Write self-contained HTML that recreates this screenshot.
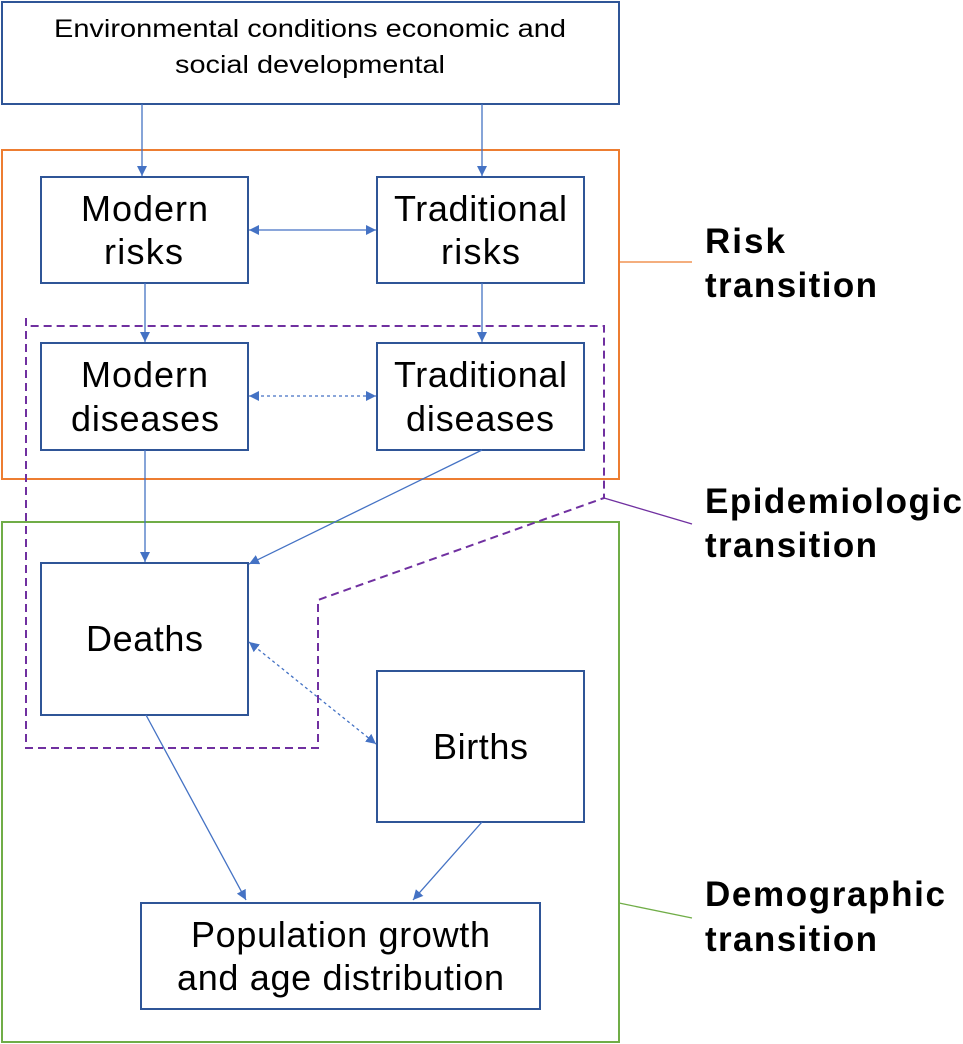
<!DOCTYPE html>
<html><head><style>body{margin:0;background:#fff}svg{display:block}</style></head><body>
<svg width="963" height="1044" viewBox="0 0 963 1044" xmlns="http://www.w3.org/2000/svg" font-family="Liberation Sans, Arial, sans-serif">
<defs>
<marker id="a" viewBox="0 0 10 10" refX="10" refY="5" markerWidth="10" markerHeight="10" markerUnits="userSpaceOnUse" orient="auto-start-reverse"><path d="M0,0L10,5L0,10z" fill="#4472C4"/></marker>
</defs>
<rect x="2" y="2" width="617" height="102" fill="none" stroke="#2F5597" stroke-width="2"/>
<text x="54" y="37" font-size="25" textLength="512" lengthAdjust="spacingAndGlyphs">Environmental conditions economic and</text>
<text x="175" y="73" font-size="25" textLength="270" lengthAdjust="spacingAndGlyphs">social developmental</text>
<rect x="2" y="150" width="617" height="329" fill="none" stroke="#ED7D31" stroke-width="2"/>
<rect x="2" y="522" width="617" height="520" fill="none" stroke="#70AD47" stroke-width="2"/>
<path d="M26,318V748H318V600L604,498V326H26" fill="none" stroke="#7030A0" stroke-width="2" stroke-dasharray="8,5"/>
<g fill="none" stroke="#2F5597" stroke-width="2">
<rect x="41" y="177" width="207" height="106"/><rect x="377" y="177" width="207" height="106"/>
<rect x="41" y="343" width="207" height="107"/><rect x="377" y="343" width="207" height="107"/>
<rect x="41" y="563" width="207" height="152"/><rect x="377" y="671" width="207" height="151"/>
<rect x="141" y="903" width="399" height="106"/>
</g>
<g stroke="#4472C4" stroke-width="1.3" fill="none">
<line x1="142" y1="104" x2="142" y2="176" marker-end="url(#a)"/>
<line x1="482" y1="104" x2="482" y2="176" marker-end="url(#a)"/>
<line x1="249" y1="230" x2="376" y2="230" marker-start="url(#a)" marker-end="url(#a)"/>
<line x1="145" y1="283" x2="145" y2="342" marker-end="url(#a)"/>
<line x1="482" y1="283" x2="482" y2="342" marker-end="url(#a)"/>
<line x1="249" y1="396" x2="376" y2="396" stroke-dasharray="3,3" marker-start="url(#a)" marker-end="url(#a)"/>
<line x1="145" y1="450" x2="145" y2="562" marker-end="url(#a)"/>
<line x1="482" y1="450" x2="249" y2="564" marker-end="url(#a)"/>
<line x1="249" y1="642" x2="376" y2="744" stroke-dasharray="3,3" marker-start="url(#a)" marker-end="url(#a)"/>
<line x1="146" y1="715" x2="246" y2="900" marker-end="url(#a)"/>
<line x1="482" y1="822" x2="413" y2="900" marker-end="url(#a)"/>
</g>
<g font-size="36" lengthAdjust="spacingAndGlyphs">
<text x="81" y="221" textLength="127">Modern</text><text x="104" y="264" textLength="79">risks</text>
<text x="394" y="221" textLength="173">Traditional</text><text x="441" y="264" textLength="79">risks</text>
<text x="81" y="387" textLength="127">Modern</text><text x="71" y="431" textLength="148">diseases</text>
<text x="394" y="387" textLength="173">Traditional</text><text x="406" y="431" textLength="148">diseases</text>
<text x="86" y="651" textLength="117">Deaths</text>
<text x="433" y="759" textLength="95">Births</text>
<text x="191" y="947" textLength="299">Population growth</text><text x="177" y="990" textLength="327">and age distribution</text>
</g>
<line x1="619" y1="262" x2="692" y2="262" stroke="#ED7D31" stroke-width="1.3"/>
<line x1="604" y1="498" x2="692" y2="524" stroke="#7030A0" stroke-width="1.3"/>
<line x1="619" y1="903" x2="692" y2="918" stroke="#70AD47" stroke-width="1.3"/>
<g font-size="35" font-weight="bold" lengthAdjust="spacingAndGlyphs">
<text x="705" y="253" textLength="80">Risk</text><text x="705" y="297" textLength="172">transition</text>
<text x="705" y="513" textLength="257">Epidemiologic</text><text x="705" y="557" textLength="172">transition</text>
<text x="705" y="906" textLength="240">Demographic</text><text x="705" y="951" textLength="172">transition</text>
</g>
</svg>
</body></html>
